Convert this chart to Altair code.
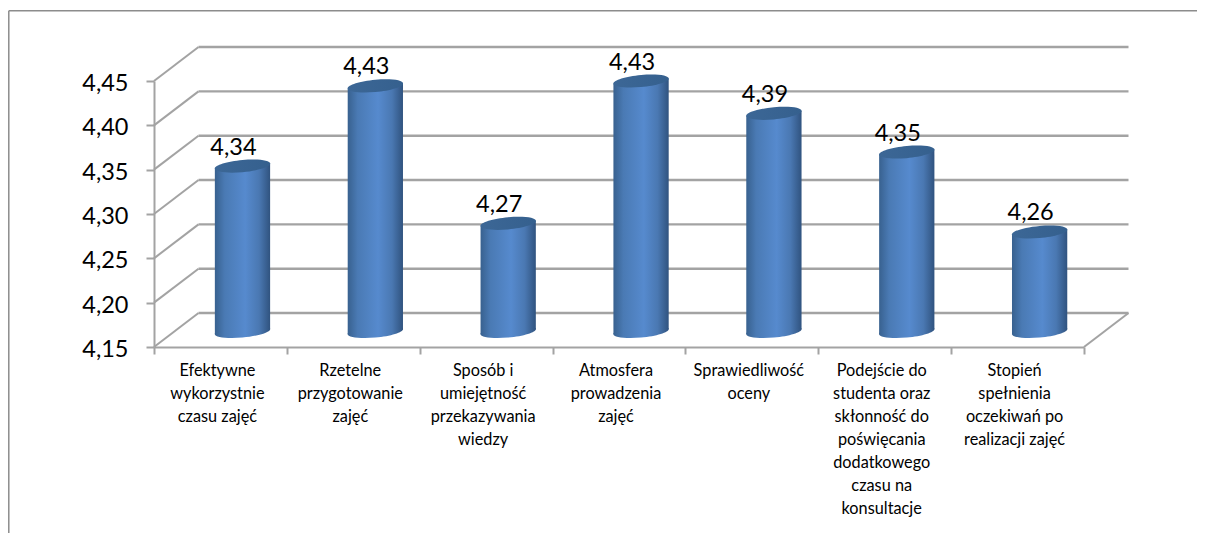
import altair as alt
import pandas as pd

label_font = "Lato"
categories = [
    "Efektywne|wykorzystnie|czasu zajęć",
    "Rzetelne|przygotowanie|zajęć",
    "Sposób i|umiejętność|przekazywania|wiedzy",
    "Atmosfera|prowadzenia|zajęć",
    "Sprawiedliwość|oceny",
    "Podejście do|studenta oraz|skłonność do|poświęcania|dodatkowego|czasu na|konsultacje",
    "Stopień|spełnienia|oczekiwań po|realizacji zajęć",
]
values = [4.335, 4.4254, 4.2705, 4.431, 4.3945, 4.3509, 4.2607]
labels = ["4,34", "4,43", "4,27", "4,43", "4,39", "4,35", "4,26"]
ticks = [4.15, 4.20, 4.25, 4.30, 4.35, 4.40, 4.45]

# 3-D projection constants, in data units
DX = 0.335        # wall depth along x
DV = 0.0383       # wall depth along y
CX = 0.5 + 0.166  # cylinder centre inside a category
HALF = 0.208      # cylinder half width
TOP_V = 0.019     # top cap lift
BASE_V = 4.1675   # cylinder base level
TILT = 0.0028     # cap tilt

GRID = "#a3a3a3"
XS = alt.Scale(domain=[0, 7])
YS = alt.Scale(domain=[4.15, 4.45], clamp=False, nice=False, zero=False)

def X(f):
    return alt.X(f, type="quantitative", scale=XS, axis=None)

def Y(f):
    return alt.Y(f, type="quantitative", scale=YS, title=None)

cat_df = pd.DataFrame({"cat": categories, "v": values})
axes = alt.Chart(cat_df).mark_rule(opacity=0).encode(
    x=alt.X("cat:N", sort=None, title=None,
            scale=alt.Scale(paddingInner=0, paddingOuter=0),
            axis=alt.Axis(labelAngle=0, tickBand="extent", labelExpr="split(datum.label,'|')",
                          labelFont=label_font, labelFontSize=16.3, labelColor="#000000",
                          labelLineHeight=23, labelLimit=0, labelPadding=8, labelOffset=-3.5,
                          tickSize=7, tickWidth=2, tickColor=GRID, domainColor=GRID, domainWidth=2,
                          grid=False, labelOverlap=False)),
    y=alt.Y("v:Q", scale=YS, title=None,
            axis=alt.Axis(values=ticks, labelExpr="replace(format(datum.value,'.2f'),'.',',')",
                          labelFont=label_font, labelFontSize=23.5, labelColor="#000000",
                          labelPadding=18, labelOffset=2.5, tickSize=8, tickWidth=2, tickColor=GRID,
                          domainColor=GRID, domainWidth=2, grid=False)),
)

wall_df = pd.DataFrame({"t": ticks})
wall_df["x0"] = 0.0
wall_df["x1"] = DX
wall_df["x2"] = 7 + DX
wall_df["b"] = wall_df["t"] + DV
side = alt.Chart(wall_df).mark_rule(color=GRID, strokeWidth=2).encode(
    x=X("x0"), x2="x1", y=Y("t"), y2="b")
back = alt.Chart(wall_df).mark_rule(color=GRID, strokeWidth=2.4).encode(
    x=X("x1"), x2="x2", y=Y("b"))

floor_df = pd.DataFrame({"x": [7], "x2": [7 + DX], "y": [4.15], "y2": [4.15 + DV]})
floor = alt.Chart(floor_df).mark_rule(color=GRID, strokeWidth=2).encode(
    x=X("x"), x2="x2", y=Y("y"), y2="y2")

# outer frame of the picture
frame_df = pd.DataFrame({"xl": [-1.093], "xr": [7.96], "yt": [4.5293], "yb": [3.93]})
frame_top = alt.Chart(frame_df).mark_rule(color="#8c8c8c", strokeWidth=1.5).encode(
    x=X("xl"), x2="xr", y=Y("yt"))
frame_left = alt.Chart(frame_df).mark_rule(color="#8c8c8c", strokeWidth=1.5).encode(
    x=X("xl"), y=Y("yt"), y2="yb")

side_grad = alt.LinearGradient(gradient="linear", x1=0, x2=1, y1=0, y2=0, stops=[
    alt.GradientStop(offset=0, color="#38618f"),
    alt.GradientStop(offset=0.18, color="#4a7ab4"),
    alt.GradientStop(offset=0.55, color="#568ace"),
    alt.GradientStop(offset=0.8, color="#4a78b2"),
    alt.GradientStop(offset=1, color="#30537f"),
])
cap_grad = alt.LinearGradient(gradient="linear", x1=0, x2=1, y1=0, y2=0, stops=[
    alt.GradientStop(offset=0, color="#3c6796"),
    alt.GradientStop(offset=1, color="#35608e"),
])
ELLIPSE = ("M1 -0.09 C1 -0.2115 0.5523 -0.2697 0 -0.22 C-0.5523 -0.1703 -1 -0.0315 -1 0.09 "
           "C-1 0.2115 -0.5523 0.2697 0 0.22 C0.5523 0.1703 1 0.0315 1 -0.09 Z")

rows = []
for i, v in enumerate(values):
    c = i + CX
    rows.append({"i": i, "x": c - HALF, "top": v + TOP_V - TILT, "base": BASE_V - TILT})
    rows.append({"i": i, "x": c + HALF, "top": v + TOP_V + TILT, "base": BASE_V + TILT})
body_df = pd.DataFrame(rows)
pt_df = pd.DataFrame({"x": [i + CX for i in range(7)],
                      "top": [v + TOP_V for v in values],
                      "base": [BASE_V] * 7,
                      "label": labels})

base_cap = alt.Chart(pt_df).mark_point(shape=ELLIPSE, filled=True, size=3080, fill=side_grad,
                                       opacity=1, strokeWidth=0).encode(x=X("x"), y=Y("base"))
body = alt.Chart(body_df).mark_area(fill=side_grad, opacity=1, clip=False).encode(
    x=X("x"), y=Y("top"), y2="base", detail="i:N")
top_cap = alt.Chart(pt_df).mark_point(shape=ELLIPSE, filled=True, size=3080, fill=cap_grad,
                                      opacity=1, strokeWidth=0).encode(x=X("x"), y=Y("top"))
text = alt.Chart(pt_df).mark_text(font=label_font, fontSize=23.5, color="#000000", dx=-9, dy=-11.5,
                                  baseline="alphabetic", align="center").encode(
    x=X("x"), y=Y("top"), text="label:N")

chart = alt.layer(frame_top, frame_left, axes, back, side, floor, base_cap, body, top_cap, text
    ).resolve_scale(x="independent"
    ).properties(width=930, height=266,
                 padding={"left": 146, "top": 73, "right": 113, "bottom": 186},
                 autosize=alt.AutoSizeParams(type="none"),
                 background="#ffffff"
    ).configure_view(stroke=None)

chart.save("out.html", embed_options={"renderer": "svg", "actions": False})
